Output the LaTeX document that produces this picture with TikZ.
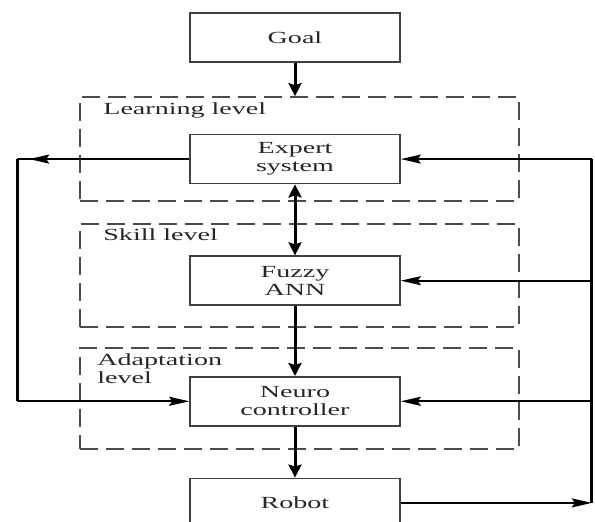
\documentclass[tikz,border=0pt]{standalone}
\usepackage{fontspec}
\newfontfamily\boxfont{Liberation Serif}[FakeStretch=1.65]
\usepackage{tikz}
\usetikzlibrary{positioning}
\usetikzlibrary{arrows.meta}
\usetikzlibrary{decorations.markings}
\tikzset{>=stealth}
\tikzstyle{line} = [draw, line width=0.9pt]
\tikzstyle{vline} = [draw, line width=1.5pt]

\begin{document}
\begin{tikzpicture}[x=0.5pt, y=-0.5pt,
      hhead/.tip={Stealth[length=10pt,width=4.5pt,inset=1.5pt]},
      vhead/.tip={Stealth[length=6.5pt,width=6.5pt,inset=1pt]},
      block/.style={draw=black!75,
      line width=0.8pt,
      minimum width=105pt,
      minimum height=24.5pt,
      inner sep=0pt,
      align=center,
      text=black!85,
      font=\boxfont\fontsize{8.5}{9}\selectfont},
      level/.style={draw=black!70, line width=0.8pt,
      dash pattern=on 9pt off 4pt,
      minimum width=219.5pt, inner sep=0pt},
      lbl/.style={inner sep=0pt, align=left, text=black!85,
      font=\boxfont\fontsize{8.5}{9}\selectfont},
      tipnear/.style={postaction={decorate},
      decoration={markings, mark=at position #1 with {\arrow{hhead}}}}]
    \useasboundingbox (0,0) rectangle (595,522);
    \clip (0,0) rectangle (595,522);
    %% Levels
    \node [level, minimum height=52pt] (learn) at (299.5,149) {};
    \node [level, minimum height=51.5pt] (skill) at (299.5,275.5) {};
    \node [level, minimum height=50.5pt] (adapt) at (299.5,398.5) {};
    \node [lbl, anchor=base west] (learnlbl) at (103,115) {Learning level};
    \node [lbl, anchor=base west] (skilllbl) at (103,241) {Skill level};
    \node [lbl, anchor=north west] (adaptlbl) at (97,353.5) {Adaptation\\level};
    %% Blocks
    \node [block] (goal) at (295,37.5) {Goal};
    \node [block, below=35.5pt of goal] (expert) {Expert\\system};
    \node [block, below=35.5pt of expert] (fuzzy) {Fuzzy\\ANN};
    \node [block, below=35pt of fuzzy] (neuro) {Neuro\\controller};
    \node [block, below=25.5pt of neuro] (robot) {Robot};
    \coordinate [left=86pt of expert.west] (lcorner);
    \coordinate [right=95.5pt of robot.east] (rcorner);
    %% Main flow
    \path [vline, -vhead] (goal) -- (goal |- learn.north);
    \path [vline, vhead-vhead] (expert) -- (fuzzy);
    \path [vline, -vhead] (fuzzy) -- (neuro);
    \path [vline, -vhead] (neuro) -- (robot);
    %% Feedback
    \path [line, tipnear=-6pt] (expert.west) -- (lcorner);
    \path [vline] (lcorner) -- (lcorner |- neuro.west);
    \path [line, -hhead] (lcorner |- neuro.west) -- (neuro.west);
    \path [line, -hhead] (robot.east) -- (rcorner);
    \path [vline] (rcorner) -- (rcorner |- expert.east);
    \path [line, -hhead] (rcorner |- expert.east) -- (expert.east);
    \path [line, -hhead] (rcorner |- fuzzy.east) -- (fuzzy.east);
    \path [line, -hhead] (rcorner |- neuro.east) -- (neuro.east);
  \end{tikzpicture}
\end{document}
